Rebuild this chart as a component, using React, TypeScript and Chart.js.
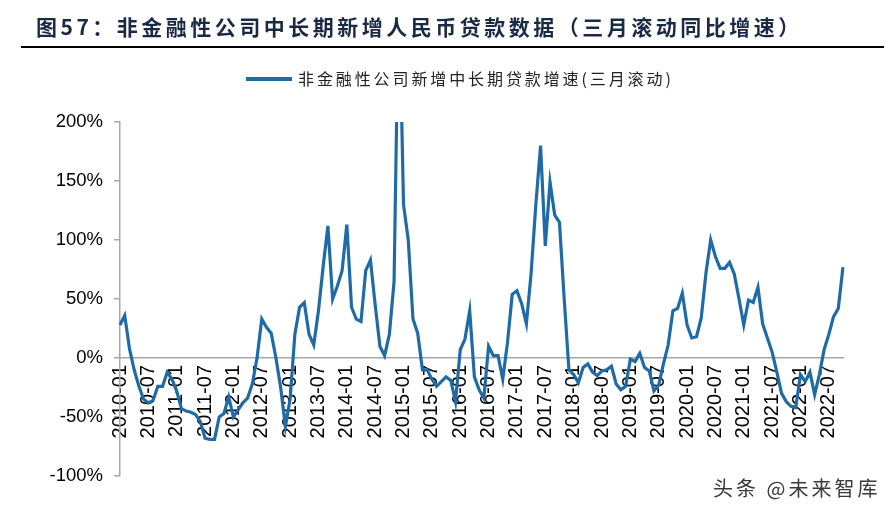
import React, { useEffect, useRef } from 'react';
import { Chart, registerables } from 'chart.js';

Chart.register(...registerables);

const TITLE = '图57：非金融性公司中长期新增人民币贷款数据（三月滚动同比增速）';
const SERIES_NAME = '非金融性公司新增中长期贷款增速(三月滚动)';
const WATERMARK = '头条 @未来智库';

// monthly categories 2010-01 .. 2022-10
const months: string[] = [];
for (let y = 2010; y <= 2022; y++) {
  for (let m = 1; m <= 12; m++) {
    if (y === 2022 && m > 10) break;
    months.push(`${y}-${m < 10 ? '0' + m : m}`);
  }
}

// three-month rolling YoY growth, %
const growth2010: number[] = [28, 36, 8, -10, -24, -35, -38, -36, -24, -24, -12, -18];
const growth2011: number[] = [-28, -43, -45, -46, -48, -54, -68, -69, -69, -50, -47, -33];
const growth2012: number[] = [-50, -44, -38, -34, -22, 0, 33, 26, 21, 0, -25, -58];
const growth2013: number[] = [-35, 20, 43, 47, 20, 11, 40, 78, 112, 50, 61, 74];
const growth2014: number[] = [113, 43, 33, 31, 74, 83, 45, 10, 2, 20, 65, 320];
const growth2015: number[] = [130, 100, 33, 21, -10, -10, -18, -24, -20, -16, -19, -37];
const growth2016: number[] = [7, 16, 40, -16, -27, -34, 10, 2, 2, -18, 13, 54];
const growth2017: number[] = [57, 46, 29, 72, 130, 180, 95, 149, 121, 115, 50, -10];
const growth2018: number[] = [-14, -21, -8, -5, -12, -15, -11, -10, -7, -22, -27, -24];
const growth2019: number[] = [-1, -3, 4, -8, -11, -28, -23, -5, 11, 40, 42, 55];
const growth2020: number[] = [28, 17, 18, 34, 72, 100, 86, 76, 76, 81, 71, 50];
const growth2021: number[] = [28, 49, 47, 60, 29, 17, 5, -12, -30, -37, -41, -42];
const growth2022: number[] = [-14, -20, -12, -31, -14, 7, 20, 35, 42, 77];

const growth: number[] = [
  ...growth2010, ...growth2011, ...growth2012, ...growth2013, ...growth2014,
  ...growth2015, ...growth2016, ...growth2017, ...growth2018, ...growth2019,
  ...growth2020, ...growth2021, ...growth2022,
];

const Y_MIN = -100;
const Y_MAX = 200;
const Y_STEP = 50;
const LABEL_EVERY = 6;

const LINE_COLOR = '#1F6BA6';
const AXIS_COLOR = '#A8A8A8';
const LATIN = "'Liberation Sans', Arial, sans-serif";
const CJK = "'Noto Sans CJK SC', 'Noto Sans', sans-serif";

export default function App() {
  const canvasRef = useRef<HTMLCanvasElement | null>(null);

  useEffect(() => {
    if (!canvasRef.current) return;
    const chart = new Chart(canvasRef.current, {
      type: 'line',
      data: {
        labels: months,
        datasets: [
          {
            label: SERIES_NAME,
            data: growth,
            borderColor: LINE_COLOR,
            backgroundColor: LINE_COLOR,
            borderWidth: 3.2,
            pointRadius: 0,
            tension: 0,
            fill: false,
          },
        ],
      },
      options: {
        responsive: false,
        animation: false,
        events: [],
        layout: { padding: { left: 0, right: 53, top: 122, bottom: 39 } },
        plugins: {
          legend: { display: false },
          title: { display: false },
          tooltip: { enabled: false },
        },
        scales: {
          x: {
            type: 'category',
            position: { y: 0 } as any,
            offset: false,
            grid: { display: false, drawTicks: false },
            border: { display: true, color: AXIS_COLOR, width: 1.5 },
            ticks: {
              autoSkip: false,
              maxRotation: 90,
              minRotation: 90,
              padding: 7,
              color: '#000',
              font: { family: LATIN, size: 20 },
              callback: (_v: any, i: number) => (i % LABEL_EVERY === 0 ? months[i] : ''),
            },
          },
          y: {
            min: Y_MIN,
            max: Y_MAX,
            grid: {
              display: true,
              drawOnChartArea: false,
              drawTicks: true,
              tickLength: 6,
              color: AXIS_COLOR,
              lineWidth: 1.5,
            },
            border: { display: true, color: AXIS_COLOR, width: 1.5 },
            ticks: {
              stepSize: Y_STEP,
              padding: 11,
              color: '#000',
              font: { family: LATIN, size: 18.5 },
              callback: (v: any) => `${v}%`,
            },
            afterFit: (scale: any) => {
              scale.width = 120;
            },
          },
        },
      },
    });
    return () => chart.destroy();
  }, []);

  return (
    <div style={{ position: 'fixed', left: 0, top: 0, width: 896, height: 515, background: '#fff', overflow: 'hidden' }}>
      <canvas ref={canvasRef} width={896} height={515} style={{ position: 'absolute', left: 0, top: 0, display: 'block' }} />
      <div
        style={{
          position: 'absolute', left: 36, top: 16, whiteSpace: 'nowrap',
          fontFamily: CJK, fontWeight: 700, fontSize: 21, lineHeight: '21px',
          letterSpacing: '3.5px', color: '#1B2A44',
        }}
      >
        {TITLE}
      </div>
      <div style={{ position: 'absolute', left: 21, top: 46, width: 863, height: 2, background: '#000' }} />
      <div style={{ position: 'absolute', left: 246, top: 77, width: 46, height: 4, background: LINE_COLOR }} />
      <div
        style={{
          position: 'absolute', left: 298, top: 70, whiteSpace: 'nowrap',
          fontFamily: CJK, fontSize: 16, lineHeight: '16px', letterSpacing: '2.9px', color: '#222',
        }}
      >
        {SERIES_NAME}
      </div>
      <div
        style={{
          position: 'absolute', left: 713, top: 478, whiteSpace: 'nowrap',
          fontFamily: CJK, fontSize: 20, lineHeight: '20px', letterSpacing: '3px', color: '#3a3a3a',
        }}
      >
        {WATERMARK}
      </div>
    </div>
  );
}
